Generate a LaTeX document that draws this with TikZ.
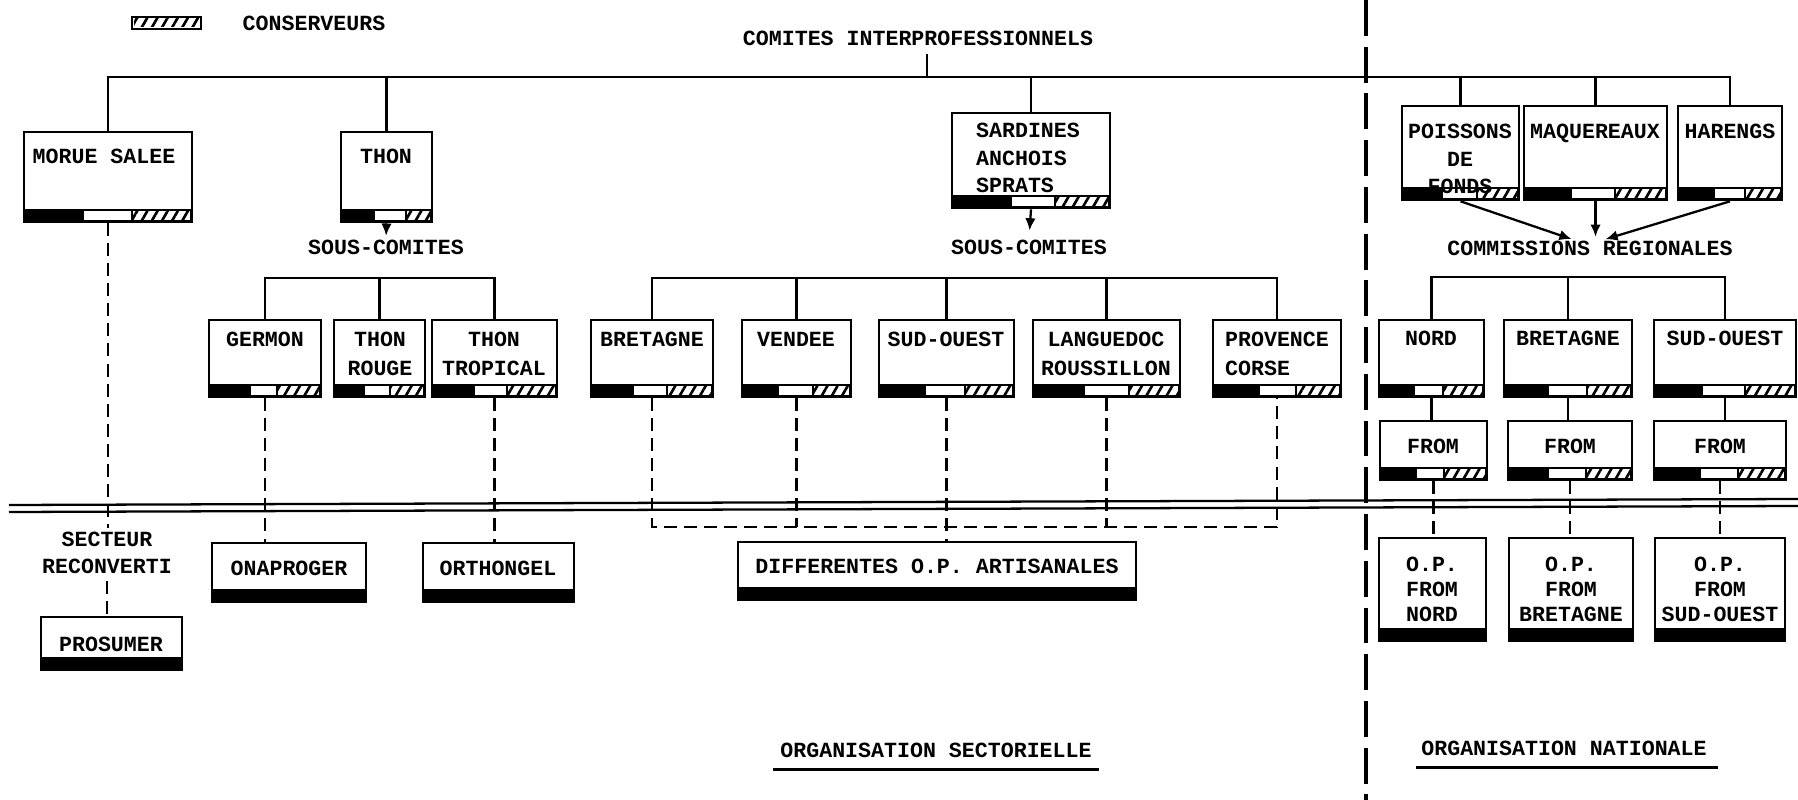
\documentclass[tikz,border=0pt]{standalone}
\usepackage{fontspec}
\setmonofont{Liberation Mono}
\usetikzlibrary{arrows.meta, positioning, fit, calc, patterns.meta}
\newcommand{\orgfont}{\fontsize{12.3}{15.5}\selectfont\ttfamily\bfseries}

% box with the three-part bar: name, left, top, right, bottom, black end, white end
\newcommand{\orgbox}[7]{%
  \node[orgframe, fit={(#2,#3) (#4,#5)}] (#1) {};
  \fill ({#2},{#5-13}) rectangle ({#4},{#5});
  \fill[white] ({#6},{#5-11}) rectangle ({#7-1},{#5-2});
  \fill[white] ({#7+1},{#5-11}) rectangle ({#4-2},{#5-2});
  \fill[hatch] ({#7+1},{#5-11}) rectangle ({#4-2},{#5-2});
}
% box with a plain black bar: name, left, top, right, bottom
\newcommand{\opbox}[5]{%
  \node[orgframe, fit={(#2,#3) (#4,#5)}] (#1) {};
  \fill ({#2},{#5-13}) rectangle ({#4},{#5});
}

\begin{document}
\begin{tikzpicture}[
    x=0.02cm, y=-0.02cm,
    orgframe/.style={draw, line width=1.5pt, inner sep=0pt},
    boxtext/.style={font=\orgfont, inner sep=0pt, align=center, anchor=north},
    tight/.style={font=\orgfont\fontsize{12.3}{14}\selectfont},
    loose/.style={font=\orgfont\fontsize{12.3}{16.4}\selectfont},
    plaintext/.style={font=\orgfont, inner sep=0pt, align=center},
    link/.style={line width=1.2pt},
    dashlink/.style={line width=1.2pt, dash pattern=on 7.4pt off 4pt},
    arrow/.style={-{Latex[length=7pt, width=6pt]}, line width=1.3pt, shorten >=2pt},
    hatch/.style={pattern={Lines[angle=60, distance=5pt, line width=1.5pt]}},
    divider/.style={line width=2pt, dash pattern=on 20.4pt off 6.2pt}
  ]
  \useasboundingbox (0,0) rectangle (1798,800);

  % legend
  \fill[hatch] (134,19) rectangle (199,27);
  \node[orgframe, fit={(132,17) (201,29)}] (legend) {};
  \node[plaintext] (legendtxt) at (314,23) {CONSERVEURS};

  \node[plaintext] (comites) at (918,38) {COMITES INTERPROFESSIONNELS};

  \coordinate (topbus) at (0,77);
  \coordinate (subbus) at (0,278);
  \coordinate (regbus) at (0,277);
  \coordinate (artbus) at (0,527);

  % first level
  \orgbox{morue}{24}{132}{192}{222}{84}{132}
  \orgbox{thon}{341}{132}{432}{222}{375}{406}
  \orgbox{sardines}{952}{113}{1110}{208}{1012}{1055}
  \orgbox{poissons}{1402}{106}{1519}{200}{1443}{1477}
  \orgbox{maquereaux}{1524}{106}{1667}{200}{1572}{1615}
  \orgbox{harengs}{1678}{106}{1782}{200}{1715}{1745}
  \node[boxtext] (morue-t) at (104,149) {MORUE SALEE};
  \node[boxtext] (thon-t) at (386,149) {THON};
  \node[boxtext, align=left] (sardines-t) at (1028,123) {SARDINES\\ANCHOIS\\SPRATS};
  \node[boxtext] (poissons-t) at (1460,124) {POISSONS\\DE\\FONDS};
  \node[boxtext] (maquereaux-t) at (1595,124) {MAQUEREAUX};
  \node[boxtext] (harengs-t) at (1730,124) {HARENGS};

  \node[plaintext] (souscomL) at (386,247) {SOUS-COMITES};
  \node[plaintext] (souscomR) at (1029,247) {SOUS-COMITES};
  \node[plaintext] (commis) at (1590,248) {COMMISSIONS REGIONALES};

  % second level
  \orgbox{germon}{209}{320}{321}{397}{251}{277}
  \orgbox{thonrouge}{334}{320}{425}{397}{365}{390}
  \orgbox{tropical}{432}{320}{557}{397}{475}{507}
  \orgbox{bretagneS}{591}{320}{713}{397}{634}{667}
  \orgbox{vendee}{742}{320}{851}{397}{779}{813}
  \orgbox{sudouestS}{879}{320}{1014}{397}{926}{965}
  \orgbox{languedoc}{1033}{320}{1180}{397}{1085}{1129}
  \orgbox{provence}{1213}{320}{1341}{397}{1260}{1296}
  \orgbox{nord}{1379}{320}{1484}{397}{1415}{1443}
  \orgbox{bret}{1504}{320}{1632}{397}{1549}{1587}
  \orgbox{sud}{1654}{320}{1796}{397}{1703}{1745}
  \node[boxtext] (germon-t) at (265,332) {GERMON};
  \node[boxtext, loose] (thonrouge-t) at (380,332) {THON\\ROUGE};
  \node[boxtext, loose] (tropical-t) at (494,332) {THON\\TROPICAL};
  \node[boxtext] (bretagneS-t) at (652,332) {BRETAGNE};
  \node[boxtext] (vendee-t) at (796,332) {VENDEE};
  \node[boxtext] (sudouestS-t) at (946,332) {SUD-OUEST};
  \node[boxtext, loose] (languedoc-t) at (1106,332) {LANGUEDOC\\ROUSSILLON};
  \node[boxtext, loose, align=left] (provence-t) at (1277,332) {PROVENCE\\CORSE};
  \node[boxtext] (nord-t) at (1431,331) {NORD};
  \node[boxtext] (bret-t) at (1568,331) {BRETAGNE};
  \node[boxtext] (sud-t) at (1725,331) {SUD-OUEST};

  % producer organisations
  \orgbox{fromnord}{1380}{421}{1487}{480}{1417}{1444}
  \orgbox{frombret}{1508}{421}{1632}{480}{1549}{1586}
  \orgbox{fromsud}{1654}{421}{1786}{480}{1701}{1738}
  \node[boxtext] (fromnord-t) at (1433,439) {FROM};
  \node[boxtext] (frombret-t) at (1570,439) {FROM};
  \node[boxtext] (fromsud-t) at (1720,439) {FROM};

  \opbox{prosumer}{41}{617}{182}{670}
  \opbox{onaproger}{212}{543}{366}{602}
  \opbox{orthongel}{423}{543}{574}{602}
  \opbox{artisan}{738}{542}{1136}{600}
  \opbox{opnord}{1379}{538}{1486}{641}
  \opbox{opbret}{1509}{538}{1633}{641}
  \opbox{opsud}{1655}{538}{1785}{641}
  \node[boxtext] (prosumer-t) at (111,637) {PROSUMER};
  \node[boxtext] (onaproger-t) at (289,561) {ONAPROGER};
  \node[boxtext] (orthongel-t) at (498,561) {ORTHONGEL};
  \node[boxtext] (artisan-t) at (937,559) {DIFFERENTES O.P. ARTISANALES};
  \node[boxtext, tight] (opnord-t) at (1432,557) {O.P.\\FROM\\NORD};
  \node[boxtext, tight] (opbret-t) at (1571,557) {O.P.\\FROM\\BRETAGNE};
  \node[boxtext, tight] (opsud-t) at (1720,557) {O.P.\\FROM\\SUD-OUEST};

  \node[plaintext] (secteur) at (107,553) {SECTEUR\\RECONVERTI};

  % frontier lines
  \draw[line width=1.3pt] (9,505) -- (1798,499);
  \draw[line width=1.3pt] (9,512) -- (1798,506);
  \draw[divider] (1366,0) -- (1366,800);

  % solid links
  \draw[link] ($(comites.south)+(9,8)$) -- ($(comites.south |- topbus)+(9,0)$);
  \draw[link] (morue.north) |- (topbus -| harengs.north) -- (harengs.north);
  \foreach \n in {thon, sardines, poissons, maquereaux}
    \draw[link] (\n.north) -- (\n.north |- topbus);
  \draw[link] (germon.north) |- (subbus -| tropical.north) -- (tropical.north);
  \draw[link] (thonrouge.north) -- (thonrouge.north |- subbus);
  \draw[link] (bretagneS.north) |- (subbus -| provence.north) -- (provence.north);
  \foreach \n in {vendee, sudouestS, languedoc}
    \draw[link] (\n.north) -- (\n.north |- subbus);
  \draw[link] (nord.north) |- (regbus -| sud.north) -- (sud.north);
  \draw[link] (bret.north) -- (bret.north |- regbus);

  % arrows
  \draw[arrow] (thon.south) -- (souscomL.north);
  \draw[arrow, shorten >=5pt] (sardines.south) -- (souscomR.north);
  \draw[arrow] (poissons.south) -- ($(commis.north)+(-15,0)$);
  \draw[arrow] (maquereaux.south) -- (maquereaux.south |- commis.north);
  \draw[arrow] (harengs.south) -- ($(commis.north)+(12,0)$);

  % regional chains
  \foreach \reg in {nord, bret, sud} {
    \draw[link] (\reg.south) -- (\reg.south |- from\reg.north);
    \draw[dashlink] (from\reg.south) -- (from\reg.south |- op\reg.north);
  }

  % dashed links
  \draw[dashlink, shorten >=2pt] (morue.south) -- (morue.south |- secteur.north);
  \draw[dashlink, shorten <=4pt] (secteur.south) -- (secteur.south |- prosumer.north);
  \draw[dashlink] (germon.south) -- (germon.south |- onaproger.north);
  \draw[dashlink] (tropical.south) -- (tropical.south |- orthongel.north);
  \draw[dashlink] (bretagneS.south) |- (artbus -| provence.south) -- (provence.south);
  \foreach \n in {vendee, languedoc}
    \draw[dashlink] (\n.south) -- (\n.south |- artbus);
  \draw[dashlink] (sudouestS.south) -- (sudouestS.south |- artisan.north);

  % headings
  \node[plaintext] (orgsect) at (936,750) {ORGANISATION SECTORIELLE};
  \node[plaintext] (orgnat) at (1564,748) {ORGANISATION NATIONALE};
  \draw[line width=1.6pt] ($(orgsect.south west)+(-7,12)$) -- ($(orgsect.south east)+(7,12)$);
  \draw[line width=1.6pt] ($(orgnat.south west)+(-5,12)$) -- ($(orgnat.south east)+(11,12)$);
\end{tikzpicture}
\end{document}
